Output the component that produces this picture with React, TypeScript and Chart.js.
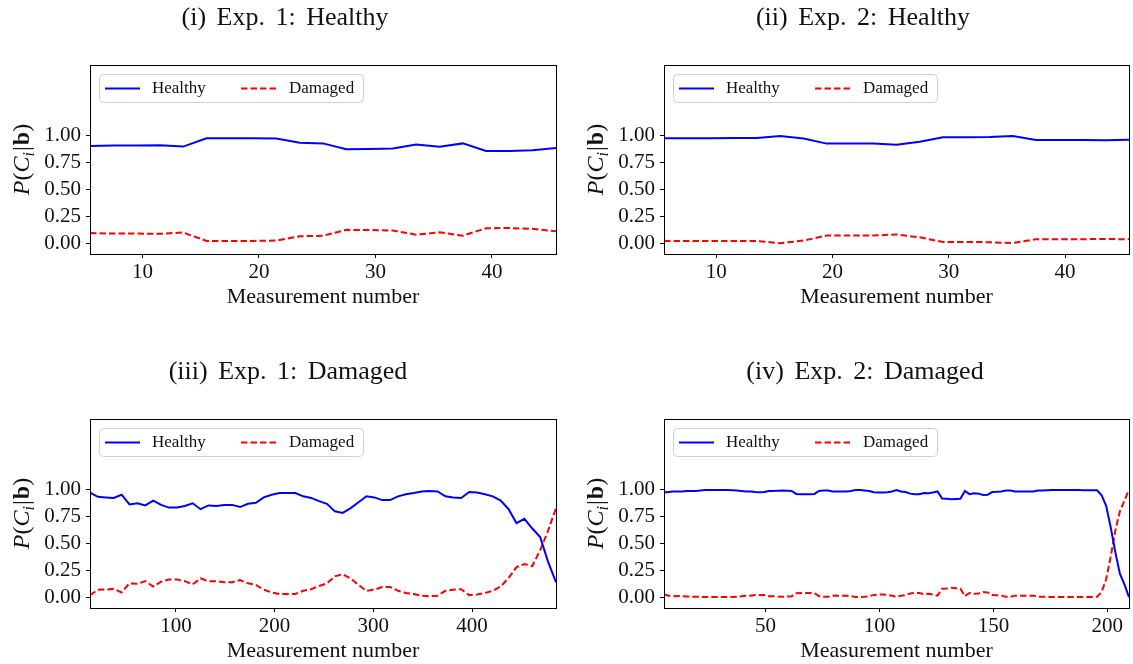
import React, { useEffect, useRef } from 'react';
import { Chart, registerables } from 'chart.js';

Chart.register(...registerables);

// ---------------- data ----------------
const yTickValues = [0, 0.25, 0.5, 0.75, 1.0];
const seriesLabels = ['Healthy', 'Damaged'];
const xAxisTitle = 'Measurement number';

// (i) / (ii) measurement numbers
const healthyRunX = [5.5, 7.5, 9.5, 11.5, 13.5, 15.5, 17.5, 19.5, 21.5, 23.5, 25.5, 27.5, 29.5, 31.5, 33.5, 35.5, 37.5, 39.5, 41.5, 43.5, 45.5];
const healthyRunTicks = [10, 20, 30, 40];

// (i) Exp. 1: Healthy
const exp1HealthyH = [0.905, 0.910, 0.910, 0.912, 0.900, 0.978, 0.978, 0.978, 0.975, 0.935, 0.930, 0.875, 0.877, 0.882, 0.920, 0.898, 0.930, 0.860, 0.858, 0.866, 0.888];
const exp1HealthyD = [0.095, 0.090, 0.090, 0.088, 0.100, 0.022, 0.022, 0.022, 0.025, 0.065, 0.070, 0.125, 0.123, 0.118, 0.080, 0.102, 0.070, 0.140, 0.142, 0.134, 0.112];

// (ii) Exp. 2: Healthy
const exp2HealthyH = [0.978, 0.979, 0.979, 0.980, 0.980, 0.999, 0.975, 0.928, 0.928, 0.928, 0.918, 0.945, 0.988, 0.988, 0.990, 0.998, 0.962, 0.962, 0.962, 0.960, 0.963];
const exp2HealthyD = [0.022, 0.021, 0.021, 0.020, 0.020, 0.001, 0.025, 0.072, 0.072, 0.072, 0.082, 0.055, 0.012, 0.012, 0.010, 0.002, 0.038, 0.038, 0.038, 0.040, 0.037];

// (iii) Exp. 1: Damaged
const exp1DamagedX = [
  13, 21, 29, 37, 45, 53, 61, 69, 77, 85,
  93, 101, 109, 117, 125, 133, 141, 149, 157, 165,
  173, 181, 189, 197, 205, 213, 221, 229, 237, 245,
  253, 261, 269, 277, 285, 293, 301, 309, 317, 325,
  333, 341, 349, 357, 365, 373, 381, 389, 397, 405,
  413, 421, 429, 437, 445, 453, 461, 469, 477, 485,
];
const exp1DamagedTicks = [100, 200, 300, 400];
const exp1DamagedH = [
  0.975, 0.935, 0.930, 0.925, 0.955, 0.865, 0.875, 0.855, 0.900, 0.860,
  0.835, 0.835, 0.850, 0.875, 0.820, 0.855, 0.850, 0.860, 0.860, 0.840,
  0.870, 0.880, 0.930, 0.955, 0.970, 0.970, 0.970, 0.940, 0.925, 0.895,
  0.870, 0.800, 0.785, 0.830, 0.885, 0.940, 0.930, 0.905, 0.905, 0.940,
  0.960, 0.970, 0.985, 0.990, 0.985, 0.940, 0.930, 0.925, 0.980, 0.975,
  0.960, 0.940, 0.900, 0.820, 0.690, 0.730, 0.640, 0.560, 0.330, 0.140,
];
const exp1DamagedD = [
  0.020, 0.070, 0.072, 0.078, 0.045, 0.130, 0.125, 0.150, 0.100, 0.145,
  0.165, 0.165, 0.150, 0.120, 0.175, 0.150, 0.150, 0.140, 0.140, 0.160,
  0.130, 0.115, 0.070, 0.045, 0.030, 0.030, 0.030, 0.060, 0.075, 0.105,
  0.130, 0.195, 0.215, 0.175, 0.115, 0.060, 0.070, 0.095, 0.095, 0.060,
  0.040, 0.030, 0.015, 0.010, 0.015, 0.060, 0.070, 0.075, 0.020, 0.025,
  0.040, 0.060, 0.100, 0.180, 0.280, 0.310, 0.290, 0.440, 0.620, 0.830,
];

// (iv) Exp. 2: Damaged
const exp2DamagedX = [
  5.5, 7.5, 9.5, 11.5, 13.5, 15.5, 17.5, 19.5, 21.5, 23.5,
  25.5, 27.5, 29.5, 31.5, 33.5, 35.5, 37.5, 39.5, 41.5, 43.5,
  45.5, 47.5, 49.5, 51.5, 53.5, 55.5, 57.5, 59.5, 61.5, 63.5,
  65.5, 67.5, 69.5, 71.5, 73.5, 75.5, 77.5, 79.5, 81.5, 83.5,
  85.5, 87.5, 89.5, 91.5, 93.5, 95.5, 97.5, 99.5, 101.5, 103.5,
  105.5, 107.5, 109.5, 111.5, 113.5, 115.5, 117.5, 119.5, 121.5, 123.5,
  125.5, 127.5, 129.5, 131.5, 133.5, 135.5, 137.5, 139.5, 141.5, 143.5,
  145.5, 147.5, 149.5, 151.5, 153.5, 155.5, 157.5, 159.5, 161.5, 163.5,
  165.5, 167.5, 169.5, 171.5, 173.5, 175.5, 177.5, 179.5, 181.5, 183.5,
  185.5, 187.5, 189.5, 191.5, 193.5, 195.5, 197.5, 199.5, 201.5, 203.5,
  205.5, 207.5, 209.5,
];
const exp2DamagedTicks = [50, 100, 150, 200];
const exp2DamagedH = [
  0.975, 0.980, 0.985, 0.985, 0.985, 0.990, 0.990, 0.990, 0.995, 0.998,
  0.998, 0.998, 0.998, 0.998, 0.998, 0.997, 0.995, 0.990, 0.985, 0.985,
  0.980, 0.978, 0.980, 0.990, 0.990, 0.993, 0.995, 0.993, 0.990, 0.962,
  0.960, 0.960, 0.960, 0.962, 0.990, 0.995, 0.995, 0.985, 0.985, 0.985,
  0.985, 0.990, 0.998, 0.998, 0.995, 0.990, 0.978, 0.975, 0.975, 0.978,
  0.985, 0.998, 0.985, 0.980, 0.965, 0.960, 0.960, 0.970, 0.968, 0.975,
  0.985, 0.920, 0.918, 0.912, 0.915, 0.918, 0.990, 0.960, 0.968, 0.965,
  0.952, 0.955, 0.980, 0.982, 0.985, 0.995, 0.995, 0.985, 0.985, 0.985,
  0.985, 0.985, 0.995, 0.995, 0.997, 0.998, 0.998, 0.998, 0.998, 0.998,
  0.998, 0.998, 0.997, 0.997, 0.997, 0.996, 0.950, 0.850, 0.650, 0.420,
  0.220, 0.120, 0.000,
];
const exp2DamagedD = [
  0.025, 0.015, 0.010, 0.012, 0.010, 0.008, 0.005, 0.005, 0.003, 0.002,
  0.002, 0.002, 0.002, 0.002, 0.002, 0.003, 0.005, 0.010, 0.015, 0.015,
  0.020, 0.022, 0.020, 0.010, 0.010, 0.007, 0.005, 0.007, 0.010, 0.038,
  0.040, 0.040, 0.040, 0.038, 0.010, 0.005, 0.005, 0.015, 0.015, 0.015,
  0.015, 0.010, 0.002, 0.002, 0.005, 0.010, 0.022, 0.025, 0.025, 0.022,
  0.015, 0.002, 0.015, 0.020, 0.035, 0.040, 0.040, 0.030, 0.032, 0.025,
  0.015, 0.080, 0.082, 0.088, 0.085, 0.082, 0.010, 0.040, 0.032, 0.035,
  0.048, 0.045, 0.020, 0.018, 0.015, 0.005, 0.005, 0.015, 0.015, 0.015,
  0.015, 0.015, 0.005, 0.005, 0.003, 0.002, 0.002, 0.002, 0.002, 0.002,
  0.002, 0.002, 0.003, 0.003, 0.003, 0.004, 0.050, 0.170, 0.380, 0.620,
  0.800, 0.900, 1.000,
];

// ---------------- styling / layout ----------------
const FONT = "'Liberation Serif', 'Times New Roman', serif";
const TEXT = '#111111';
const BLUE = '#0000ff';
const RED = '#ff0000';
const DASH = [6.5, 3];

type PanelDef = {
  title: string;
  x: number[];
  healthy: number[];
  damaged: number[];
  xMin: number;
  xMax: number;
  xTicks: number[];
  left: number;
  top: number;
  width: number;
  height: number;
  areaLeft: number;
  areaTop: number;
  areaRight: number;
  areaBottom: number;
  titleX: number;
};

const panels: PanelDef[] = [
  {
    title: '(i) Exp. 1: Healthy', x: healthyRunX, healthy: exp1HealthyH, damaged: exp1HealthyD,
    xMin: 5.5, xMax: 45.5, xTicks: healthyRunTicks,
    left: 0, top: 0, width: 566, height: 332, areaLeft: 90, areaTop: 65, areaRight: 556, areaBottom: 254, titleX: 285,
  },
  {
    title: '(ii) Exp. 2: Healthy', x: healthyRunX, healthy: exp2HealthyH, damaged: exp2HealthyD,
    xMin: 5.5, xMax: 45.5, xTicks: healthyRunTicks,
    left: 566, top: 0, width: 567, height: 332, areaLeft: 98, areaTop: 65, areaRight: 563, areaBottom: 254, titleX: 297,
  },
  {
    title: '(iii) Exp. 1: Damaged', x: exp1DamagedX, healthy: exp1DamagedH, damaged: exp1DamagedD,
    xMin: 13, xMax: 485, xTicks: exp1DamagedTicks,
    left: 0, top: 332, width: 566, height: 332, areaLeft: 90, areaTop: 87, areaRight: 556, areaBottom: 276, titleX: 288,
  },
  {
    title: '(iv) Exp. 2: Damaged', x: exp2DamagedX, healthy: exp2DamagedH, damaged: exp2DamagedD,
    xMin: 5.5, xMax: 209.5, xTicks: exp2DamagedTicks,
    left: 566, top: 332, width: 567, height: 332, areaLeft: 98, areaTop: 87, areaRight: 563, areaBottom: 276, titleX: 299,
  },
];

const align = (v: number) => Math.round(v - 0.5) + 0.5;

const decorPlugin = {
  id: 'decor',
  afterDraw(chart: any, _args: any, opts: any) {
    const p: PanelDef = opts.panel;
    const { ctx, chartArea: a } = chart;
    ctx.save();

    // full frame
    ctx.strokeStyle = '#000';
    ctx.lineWidth = 1;
    ctx.setLineDash([]);
    const l = align(a.left), t = align(a.top), r = align(a.right), b = align(a.bottom);
    ctx.strokeRect(l, t, r - l, b - t);

    // legend
    const bx = a.left + 9, by = a.top + 9, bw = 264, bh = 28;
    ctx.beginPath();
    if ((ctx as any).roundRect) (ctx as any).roundRect(bx + 0.5, by + 0.5, bw, bh, 4);
    else ctx.rect(bx + 0.5, by + 0.5, bw, bh);
    ctx.fillStyle = 'rgba(255,255,255,0.8)';
    ctx.fill();
    ctx.strokeStyle = '#d0d0d0';
    ctx.lineWidth = 1;
    ctx.stroke();
    const ly = by + bh / 2 + 0.5;
    ctx.lineWidth = 2;
    ctx.strokeStyle = BLUE;
    ctx.beginPath();
    ctx.moveTo(bx + 6, ly);
    ctx.lineTo(bx + 41, ly);
    ctx.stroke();
    ctx.strokeStyle = RED;
    ctx.setLineDash(DASH);
    ctx.beginPath();
    ctx.moveTo(bx + 142, ly);
    ctx.lineTo(bx + 177, ly);
    ctx.stroke();
    ctx.setLineDash([]);
    ctx.fillStyle = TEXT;
    ctx.font = `17px ${FONT}`;
    ctx.textAlign = 'left';
    ctx.textBaseline = 'middle';
    ctx.fillText(chart.data.datasets[0].label, bx + 53, ly);
    ctx.fillText(chart.data.datasets[1].label, bx + 190, ly);

    // title
    ctx.font = `26px ${FONT}`;
    ctx.textAlign = 'center';
    (ctx as any).wordSpacing = '4px';
    ctx.fillText(p.title, p.titleX, a.top - 46.5);
    (ctx as any).wordSpacing = '0px';

    // x axis title
    ctx.font = `22px ${FONT}`;
    ctx.fillText(xAxisTitle, (a.left + a.right) / 2, a.bottom + 43.5);

    // y axis title: P(C_i|b)
    ctx.save();
    ctx.translate(a.left - 67, (a.top + a.bottom) / 2);
    ctx.rotate(-Math.PI / 2);
    ctx.textAlign = 'left';
    ctx.textBaseline = 'alphabetic';
    const parts = [
      { t: 'P', f: `italic 24px ${FONT}`, dy: 0, kern: 0 },
      { t: '(', f: `24px ${FONT}`, dy: 0, kern: 0 },
      { t: 'C', f: `italic 24px ${FONT}`, dy: 0, kern: 0 },
      { t: 'i', f: `italic 16px ${FONT}`, dy: 5, kern: 1 },
      { t: '|', f: `24px ${FONT}`, dy: 0, kern: 1 },
      { t: 'b', f: `bold 24px ${FONT}`, dy: 0, kern: 0 },
      { t: ')', f: `24px ${FONT}`, dy: 0, kern: 0 },
    ];
    let total = 0;
    for (const pt of parts) {
      ctx.font = pt.f;
      total += ctx.measureText(pt.t).width + pt.kern;
    }
    let cx = -total / 2;
    for (const pt of parts) {
      ctx.font = pt.f;
      ctx.fillText(pt.t, cx, 6 + pt.dy);
      cx += ctx.measureText(pt.t).width + pt.kern;
    }
    ctx.restore();

    ctx.restore();
  },
};

function Panel({ p }: { p: PanelDef }) {
  const ref = useRef<HTMLCanvasElement | null>(null);
  useEffect(() => {
    const canvas = ref.current;
    if (!canvas) return;
    let alive = true;
    const chart = new Chart(canvas, {
      type: 'line',
      data: {
        datasets: [
          {
            label: seriesLabels[0],
            data: p.x.map((xv, i) => ({ x: xv, y: p.healthy[i] })),
            borderColor: BLUE,
            backgroundColor: BLUE,
            borderWidth: 2,
            pointRadius: 0,
            tension: 0,
            fill: false,
          },
          {
            label: seriesLabels[1],
            data: p.x.map((xv, i) => ({ x: xv, y: p.damaged[i] })),
            borderColor: RED,
            backgroundColor: RED,
            borderWidth: 2,
            borderDash: DASH,
            pointRadius: 0,
            tension: 0,
            fill: false,
          },
        ],
      },
      options: {
        animation: false,
        responsive: false,
        devicePixelRatio: 1,
        layout: { padding: { left: 0, top: p.areaTop, right: p.width - p.areaRight, bottom: 0 } },
        plugins: {
          legend: { display: false },
          title: { display: false },
          tooltip: { enabled: false },
          decor: { panel: p },
        } as any,
        scales: {
          x: {
            type: 'linear',
            min: p.xMin,
            max: p.xMax,
            afterBuildTicks: (s: any) => {
              s.ticks = p.xTicks.map((v) => ({ value: v }));
            },
            afterFit: (s: any) => {
              s.height = p.height - p.areaBottom;
            },
            grid: { drawOnChartArea: false, drawTicks: true, tickLength: 4, tickColor: '#000', tickWidth: 1 },
            border: { display: true, color: '#000', width: 1 },
            ticks: {
              font: { family: FONT, size: 21, lineHeight: 1.2 },
              color: TEXT,
              padding: 2,
              maxRotation: 0,
              autoSkip: false,
              callback: (v: any) => String(v),
            },
          },
          y: {
            type: 'linear',
            min: -0.1,
            max: 1.66,
            afterBuildTicks: (s: any) => {
              s.ticks = yTickValues.map((v) => ({ value: v }));
            },
            afterFit: (s: any) => {
              s.width = p.areaLeft;
            },
            grid: { drawOnChartArea: false, drawTicks: true, tickLength: 4, tickColor: '#000', tickWidth: 1 },
            border: { display: true, color: '#000', width: 1 },
            ticks: {
              font: { family: FONT, size: 21, lineHeight: 1.2 },
              color: TEXT,
              padding: 5,
              autoSkip: false,
              callback: (v: any) => Number(v).toFixed(2),
            },
          },
        },
      } as any,
      plugins: [decorPlugin as any],
    });
    const fonts: any = (document as any).fonts;
    if (fonts && fonts.load) {
      Promise.all([
        fonts.load(`21px ${FONT}`),
        fonts.load(`italic 24px ${FONT}`),
        fonts.load(`bold 24px ${FONT}`),
      ]).then(() => {
        if (alive) chart.update();
      }).catch(() => {});
    }
    return () => {
      alive = false;
      chart.destroy();
    };
  }, [p]);
  return (
    <canvas
      ref={ref}
      width={p.width}
      height={p.height}
      style={{ position: 'absolute', left: p.left, top: p.top, width: p.width, height: p.height }}
    />
  );
}

export default function App() {
  return (
    <div style={{ position: 'fixed', left: 0, top: 0, width: 1133, height: 664, background: '#ffffff', overflow: 'hidden' }}>
      {panels.map((p, i) => (
        <Panel key={i} p={p} />
      ))}
    </div>
  );
}
